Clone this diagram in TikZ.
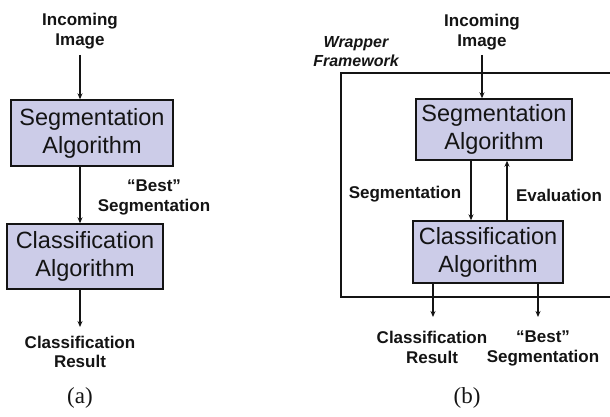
\documentclass[tikz,border=0pt]{standalone}
\usepackage{fontspec}
\setmainfont{Liberation Sans}
\newfontfamily\capfont{Liberation Serif}
\usetikzlibrary{arrows.meta}
\definecolor{boxfill}{RGB}{204,204,232}
\definecolor{ink}{RGB}{20,20,20}
\tikzset{
  algbox/.style={draw=ink, line width=1.4pt, fill=boxfill, align=center, inner sep=0pt,
    font=\fontsize{23.5}{28}\selectfont, text=ink},
  lbl/.style={align=center, inner sep=0pt, font=\fontsize{17}{19.5}\selectfont\bfseries, text=ink},
  arr/.style={draw=ink, line width=1.1pt, -{Stealth[length=6pt,width=5pt]}},
  frame/.style={draw=ink, line width=2.4pt},
  caplbl/.style={inner sep=0pt, font=\capfont\fontsize{23}{26}\selectfont, text=ink}
}
\begin{document}
\begin{tikzpicture}[x=1pt,y=-1pt]
\useasboundingbox (0,0) rectangle (610,417);
% (a)
\node[lbl] (inA) at (80,31) {Incoming\\Image};
\node[algbox, minimum width=162pt, minimum height=66pt] (segA) at (92,133) {Segmentation\\Algorithm};
\node[algbox, minimum width=156pt, minimum height=65pt] (clsA) at (85,256.5) {Classification\\Algorithm};
\node[lbl] (bestA) at (154,197.5) {``Best''\\Segmentation};
\node[lbl] (resA) at (80,352) {Classification\\Result};
\coordinate (a1) at (80,55);
\coordinate (a2) at (80,327);
\draw[arr] (a1) -- (a1 |- segA.north);
\draw[arr] (a1 |- segA.south) -- (a1 |- clsA.north);
\draw[arr] (a1 |- clsA.south) -- (a2);
\node[caplbl] (capA) at (80,398) {(a)};
% (b)
\coordinate (fTL) at (341,73);
\coordinate (fTR) at (612,73);
\coordinate (fBL) at (341,297);
\coordinate (fBR) at (612,297);
\draw[frame] (fTR) -- (fTL) -- (fBL) -- (fBR);
\node[lbl, font=\fontsize{16}{18.5}\selectfont\bfseries\itshape] (wrap) at (356,51.5) {Wrapper\\Framework};
\node[lbl] (inB) at (482,32) {Incoming\\Image};
\node[algbox, minimum width=156pt, minimum height=61pt] (segB) at (494,129.5) {Segmentation\\Algorithm};
\node[algbox, minimum width=150pt, minimum height=62pt] (clsB) at (488,252) {Classification\\Algorithm};
\node[lbl] (segL) at (405,194) {Segmentation};
\node[lbl] (evalL) at (559,195) {Evaluation};
\node[lbl] (resB) at (432,347.5) {Classification\\Result};
\node[lbl] (bestB) at (543,348.5) {``Best''\\Segmentation};
\coordinate (b1) at (482,55);
\coordinate (d1) at (471,160);
\coordinate (u1) at (507,160);
\coordinate (o1) at (433,317);
\coordinate (o2) at (538,317);
\draw[arr] (b1) -- (b1 |- segB.north);
\draw[arr] (d1 |- segB.south) -- (d1 |- clsB.north);
\draw[arr] (u1 |- clsB.north) -- (u1 |- segB.south);
\draw[arr] (o1 |- clsB.south) -- (o1);
\draw[arr] (o2 |- clsB.south) -- (o2);
\node[caplbl] (capB) at (467,398) {(b)};
\end{tikzpicture}
\end{document}
